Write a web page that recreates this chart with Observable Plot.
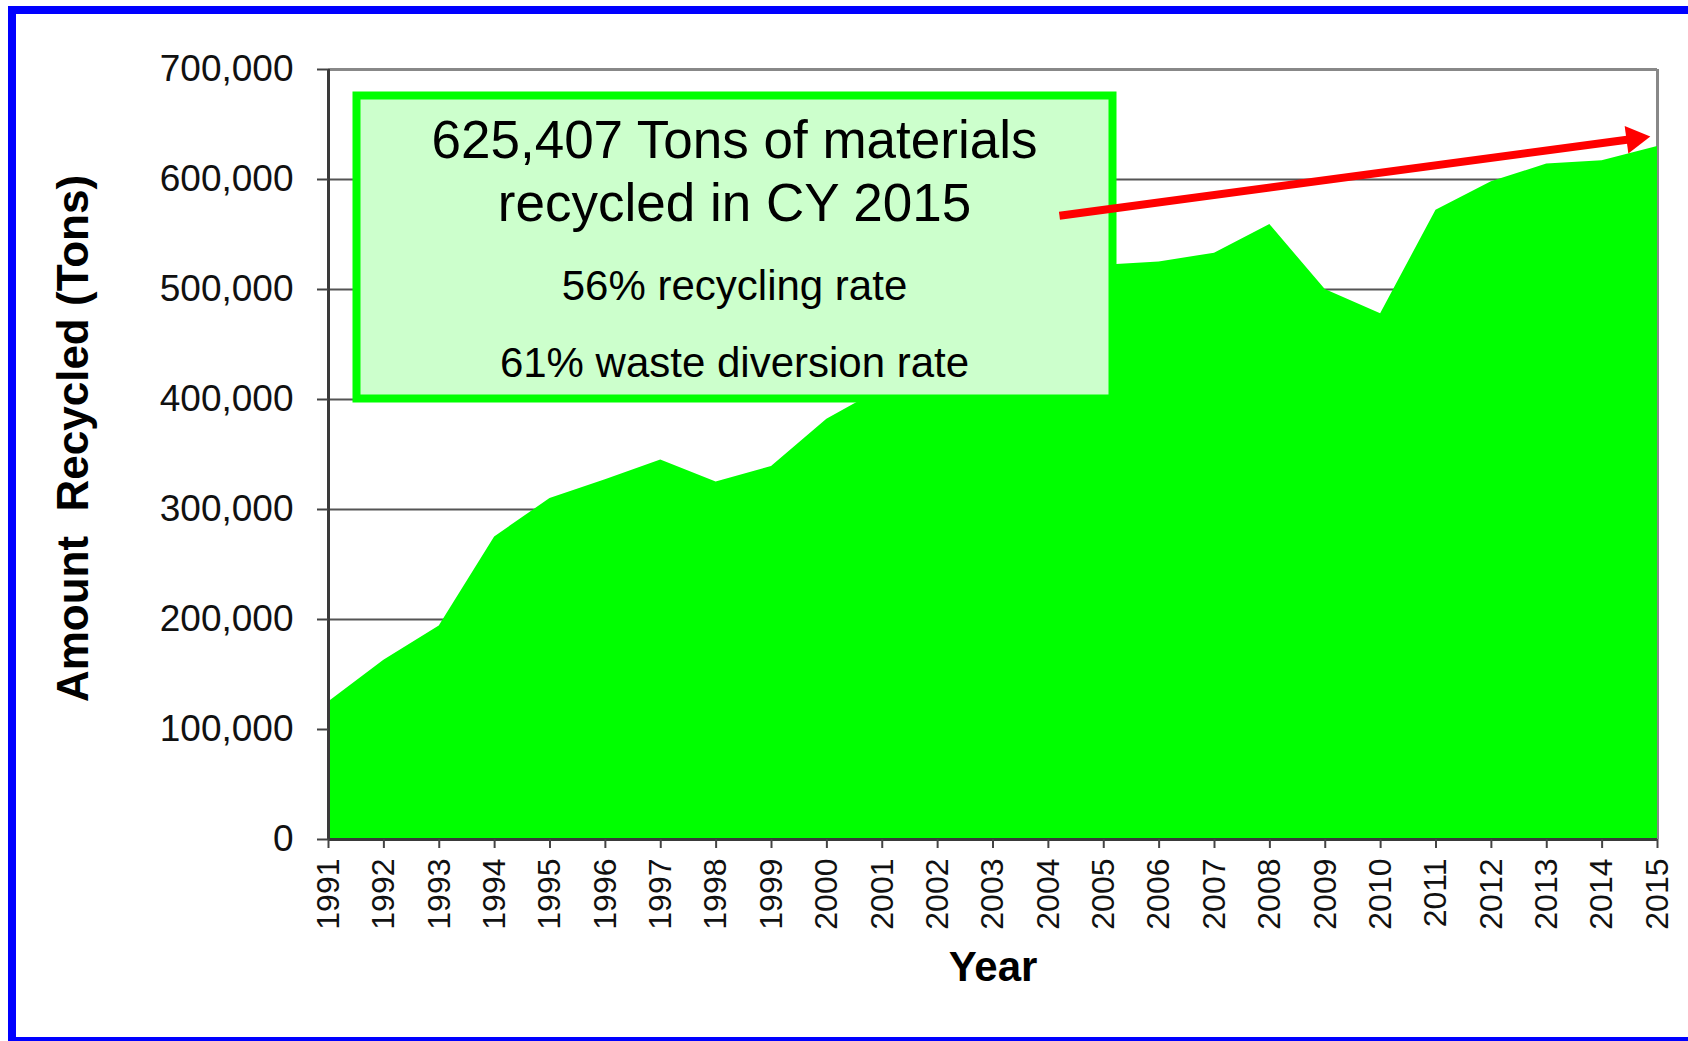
<!DOCTYPE html>
<html><head><meta charset="utf-8">
<script src="https://cdn.jsdelivr.net/npm/d3@7"></script>
<script src="https://cdn.jsdelivr.net/npm/@observablehq/plot@0.6"></script>
<style>
html,body{margin:0;padding:0;background:#fff;}
#wrap{position:relative;width:1688px;height:1041px;overflow:hidden;background:#fff;}
#frame{position:absolute;left:8px;top:6px;width:1700px;height:1039px;box-sizing:border-box;border:8px solid #0000ff;pointer-events:none;}
svg text{white-space:pre;}
</style></head><body>
<div id="wrap"><div id="chart"></div><div id="frame"></div></div>
<script>
const years = [1991,1992,1993,1994,1995,1996,1997,1998,1999,2000,2001,2002,2003,2004,2005,2006,2007,2008,2009,2010,2011,2012,2013,2014,2015];
const tons = [125000,163000,194000,275000,310000,327000,345000,325000,339000,382000,410000,445000,470000,495000,522000,525000,533000,559000,500000,478000,572000,598000,614000,617000,630000];
const yTicks = [0,100000,200000,300000,400000,500000,600000,700000];
const gridValues = [100000,200000,300000,400000,500000,600000];
const noteLines = ["625,407 Tons of materials","recycled in CY 2015","56% recycling rate","61% waste diversion rate"];
const yTitle = "Amount  Recycled (Tons)";
const xTitle = "Year";

const W = 1688, H = 1041, mL = 328, mR = 31, mT = 69, mB = 202;
const data = years.map((y, i) => ({year: y, tons: tons[i]}));

// annotation arrow (from the note towards the 2015 value)
const arrowSeg = [{x1: 2004.2, y1: 567000, x2: 2014.87, y2: 639000}];
const kx = (W - mL - mR) / (years[years.length-1] - years[0]);
const ky = (H - mT - mB) / 700000;
const a = Math.atan2((arrowSeg[0].y2 - arrowSeg[0].y1) * ky, (arrowSeg[0].x2 - arrowSeg[0].x1) * kx);
const headBack = 16;

const font = "'Liberation Sans', Arial, Helvetica, sans-serif";

const chart = Plot.plot({
  width: W, height: H,
  marginLeft: mL, marginRight: mR, marginTop: mT, marginBottom: mB,
  style: {fontFamily: font, color: "#111", background: "transparent", overflow: "visible"},
  x: {type: "linear", domain: [1991, 2015]},
  y: {domain: [0, 700000]},
  marks: [
    Plot.ruleY(gridValues, {stroke: "#555", strokeWidth: 2}),
    Plot.ruleX([2015], {stroke: "#888", strokeWidth: 3}),
    Plot.areaY(data, {x: "year", y: "tons", fill: "#00ff00"}),
    Plot.ruleY([700000], {stroke: "#888", strokeWidth: 3}),
    Plot.ruleX([1991], {stroke: "#3a3a3a", strokeWidth: 3}),
    Plot.ruleY([0], {stroke: "#3a3a3a", strokeWidth: 3}),
    Plot.axisY({ticks: yTicks, tickFormat: d3.format(","), tickSize: 11, tickPadding: 24, fontSize: 37, label: null, stroke: "#444", strokeWidth: 2}),
    Plot.axisX({ticks: years, tickFormat: d => String(d), tickRotate: -90, tickSize: 9, tickPadding: 10, fontSize: 32, label: null, stroke: "#444", strokeWidth: 2}),
    Plot.text([yTitle], {text: d => d, frameAnchor: "left", dx: 87 - mL, dy: -16, rotate: -90, textAnchor: "middle", lineAnchor: "bottom", fontWeight: "bold", fontSize: 44, fill: "#000"}),
    Plot.text([xTitle], {text: d => d, frameAnchor: "bottom", dy: 141, textAnchor: "middle", lineAnchor: "bottom", fontWeight: "bold", fontSize: 42, fill: "#000"}),
    Plot.frame({fill: "#ccffcc", stroke: "#00ff00", strokeWidth: 8, insetLeft: 28, insetTop: 26, insetRight: 545, insetBottom: 441}),
    Plot.text([noteLines[0]], {text: d => d, frameAnchor: "top-left", dx: 406, dy: 88, textAnchor: "middle", lineAnchor: "bottom", fontSize: 53, fill: "#000"}),
    Plot.text([noteLines[1]], {text: d => d, frameAnchor: "top-left", dx: 406, dy: 151, textAnchor: "middle", lineAnchor: "bottom", fontSize: 53, fill: "#000"}),
    Plot.text([noteLines[2]], {text: d => d, frameAnchor: "top-left", dx: 406, dy: 230, textAnchor: "middle", lineAnchor: "bottom", fontSize: 42, fill: "#000"}),
    Plot.text([noteLines[3]], {text: d => d, frameAnchor: "top-left", dx: 406, dy: 307, textAnchor: "middle", lineAnchor: "bottom", fontSize: 42, fill: "#000"}),
    Plot.arrow(arrowSeg, {x1: "x1", y1: "y1", x2: "x2", y2: "y2", stroke: "#ff0000", strokeWidth: 8, headLength: 0, insetEnd: headBack, strokeLinecap: "butt"}),
    Plot.dot(arrowSeg, {x: "x2", y: "y2", symbol: "triangle", r: 10.3, fill: "#ff0000", rotate: 90 - a * 180 / Math.PI, dx: -headBack * Math.cos(a), dy: headBack * Math.sin(a)})
  ]
});
document.getElementById("chart").appendChild(chart);
</script>
</body></html>
